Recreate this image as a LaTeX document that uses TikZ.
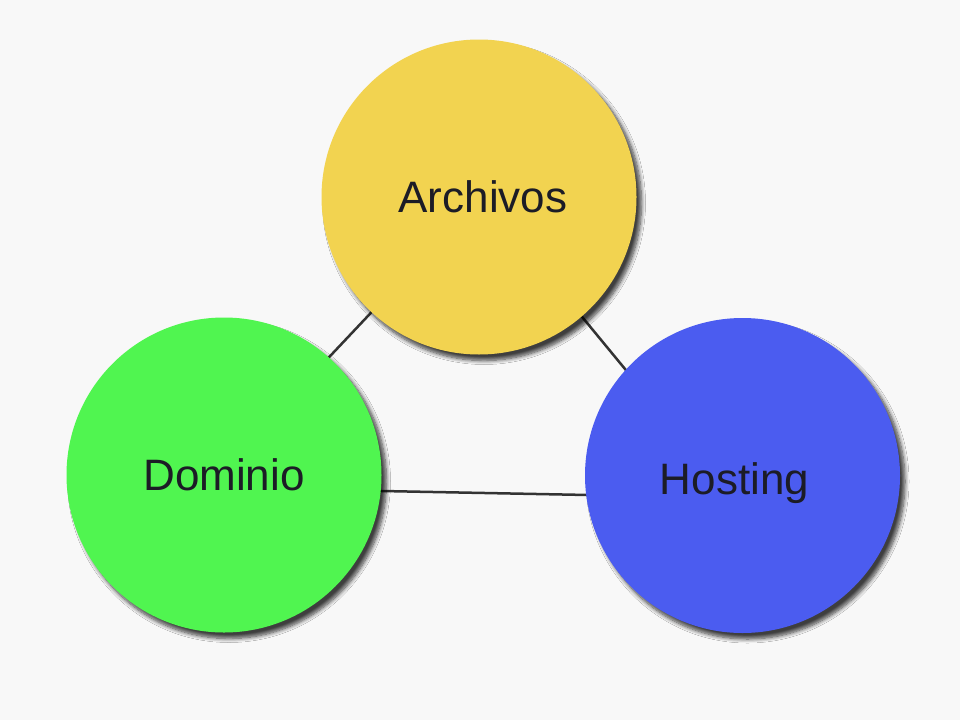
\documentclass[tikz,border=0pt]{standalone}
\usepackage{fontspec}
\setmainfont{Liberation Sans}
\usetikzlibrary{shadows.blur}
\definecolor{bgc}{HTML}{F8F8F8}
\definecolor{yel}{HTML}{F2D350}
\definecolor{grn}{HTML}{50F550}
\definecolor{blu}{HTML}{4B5CF0}
\definecolor{txt}{HTML}{1C1C26}
\definecolor{lnc}{HTML}{333333}
\tikzset{
  bubble/.style={circle, minimum size=315pt, inner sep=0pt, text=txt,
    font=\fontsize{44}{52}\selectfont,
    blur shadow={shadow xshift=5pt, shadow yshift=-6pt, shadow blur steps=8, shadow blur radius=4pt, shadow opacity=75}},
  link/.style={draw=lnc, line width=2.5pt}
}
\begin{document}
\begin{tikzpicture}[x=1pt,y=-1pt]
  \fill[bgc] (0,0) rectangle (960,720);
  \useasboundingbox (0,0) rectangle (960,720);
  \coordinate (ad1) at (399,283);
  \coordinate (ad2) at (300,388);
  \coordinate (ah1) at (555,284);
  \coordinate (ah2) at (653,403);
  \coordinate (dh1) at (330,490);
  \coordinate (dh2) at (640,496);
  \draw[link] (ad1) -- (ad2);
  \draw[link] (ah1) -- (ah2);
  \draw[link] (dh1) -- (dh2);
  \node[bubble, fill=yel, text depth=0pt] (a) at (479,197) {\hspace{8pt}Archivos};
  \node[bubble, fill=grn] (d) at (224,475) {Dominio};
  \node[bubble, fill=blu, text depth=0pt] (h) at (742.5,475.5) {\raisebox{-6pt}{Hosting}\rule{16pt}{0pt}};
\end{tikzpicture}
\end{document}
